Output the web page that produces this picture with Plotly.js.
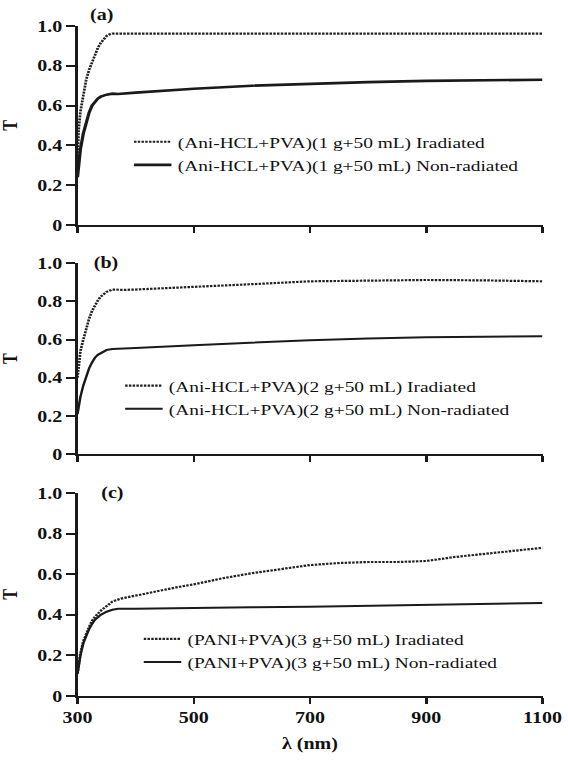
<!DOCTYPE html>
<html>
<head>
<meta charset="utf-8">
<script src="https://cdn.plot.ly/plotly-3.0.1.min.js"></script>
<style>
html,body{margin:0;padding:0;background:#fff;overflow:hidden;}
#wrap{width:568px;height:768px;overflow:hidden;}
#chart{width:454px;height:768px;transform:scaleX(1.25);transform-origin:0 0;}
</style>
</head>
<body>
<div id="wrap"><div id="chart"></div></div>
<script>
// Panel (a)
const lamA_irr = [300,302,305,310,315,320,325,330,335,340,345,350,355,360,400,600,800,1000,1100];
const tA_irr   = [0.30,0.48,0.57,0.66,0.73,0.78,0.82,0.86,0.89,0.915,0.935,0.95,0.958,0.962,0.962,0.962,0.962,0.962,0.962];
const lamA_non = [300,302,305,310,315,320,325,330,335,340,350,360,370,400,500,600,700,800,900,1000,1100];
const tA_non   = [0.24,0.32,0.38,0.46,0.52,0.565,0.60,0.62,0.635,0.645,0.655,0.66,0.658,0.665,0.685,0.70,0.71,0.718,0.724,0.728,0.73];
// Panel (b)
const lamB_irr = [300,302,305,310,315,320,325,330,335,340,345,350,360,380,400,500,600,700,800,900,1000,1100];
const tB_irr   = [0.40,0.48,0.54,0.60,0.66,0.71,0.75,0.78,0.805,0.825,0.84,0.85,0.862,0.86,0.862,0.875,0.89,0.905,0.91,0.912,0.91,0.905];
const lamB_non = [300,302,305,310,315,320,325,330,335,340,350,360,380,400,500,600,700,800,900,1000,1100];
const tB_non   = [0.21,0.25,0.30,0.36,0.41,0.45,0.48,0.505,0.52,0.53,0.545,0.55,0.552,0.556,0.57,0.585,0.597,0.605,0.612,0.615,0.617];
// Panel (c)
const lamC_irr = [300,302,305,310,315,320,325,330,340,350,360,375,400,430,470,500,550,600,650,700,750,800,850,900,950,1000,1050,1100];
const tC_irr   = [0.11,0.16,0.21,0.27,0.31,0.34,0.37,0.39,0.42,0.445,0.465,0.48,0.495,0.51,0.535,0.55,0.58,0.605,0.625,0.645,0.655,0.66,0.66,0.665,0.685,0.70,0.715,0.73];
const lamC_non = [300,302,305,310,315,320,325,330,340,350,360,370,400,500,600,700,800,900,1000,1100];
const tC_non   = [0.11,0.15,0.20,0.26,0.30,0.33,0.355,0.375,0.40,0.415,0.425,0.43,0.43,0.432,0.437,0.44,0.445,0.45,0.455,0.458];

const names = {
  aI: "(Ani-HCL+PVA)(1 g+50 mL) Iradiated",
  aN: "(Ani-HCL+PVA)(1 g+50 mL) Non-radiated",
  bI: "(Ani-HCL+PVA)(2 g+50 mL) Iradiated",
  bN: "(Ani-HCL+PVA)(2 g+50 mL) Non-radiated",
  cI: "(PANI+PVA)(3 g+50 mL) Iradiated",
  cN: "(PANI+PVA)(3 g+50 mL) Non-radiated"
};
const xTicks = [300,500,700,900,1100];
const yTicks = [0,0.2,0.4,0.6,0.8,1.0];
const yTickText = ["0","0.2","0.4","0.6","0.8","1.0"];

const serif = "Liberation Serif";
const dotted = {color:"#222", width:2.2, dash:"2px,1px"};
const solid = w => ({color:"#1a1a1a", width:w});

const traces = [
  {x:lamA_irr, y:tA_irr, name:names.aI, mode:"lines", line:dotted, xaxis:"x", yaxis:"y", legend:"legend"},
  {x:lamA_non, y:tA_non, name:names.aN, mode:"lines", line:solid(2.6), xaxis:"x", yaxis:"y", legend:"legend"},
  {x:lamB_irr, y:tB_irr, name:names.bI, mode:"lines", line:dotted, xaxis:"x2", yaxis:"y2", legend:"legend2"},
  {x:lamB_non, y:tB_non, name:names.bN, mode:"lines", line:solid(2), xaxis:"x2", yaxis:"y2", legend:"legend2"},
  {x:lamC_irr, y:tC_irr, name:names.cI, mode:"lines", line:dotted, xaxis:"x3", yaxis:"y3", legend:"legend3"},
  {x:lamC_non, y:tC_non, name:names.cN, mode:"lines", line:solid(2), xaxis:"x3", yaxis:"y3", legend:"legend3"}
];

function xax(anchor, showLabels, title) {
  const a = {
    range:[300,1100], anchor:anchor, showline:true, linecolor:"#1a1a1a", linewidth:2,
    ticks:"outside", ticklen:6, tickwidth:2, tickcolor:"#1a1a1a",
    tickvals:xTicks, showticklabels:showLabels, showgrid:false, zeroline:false,
    tickfont:{family:serif, size:16, color:"#111", weight:"bold"}
  };
  if (title) a.title = {text:title, font:{family:serif, size:16, color:"#111", weight:"bold"}, standoff:13};
  return a;
}
function yax(anchor, domain) {
  return {
    range:[0,1.0], domain:domain, anchor:anchor, showline:true, linecolor:"#1a1a1a", linewidth:2,
    ticks:"outside", ticklen:7, tickwidth:2, tickcolor:"#1a1a1a",
    tickvals:yTicks, ticktext:yTickText, showgrid:false, zeroline:false,
    tickfont:{family:serif, size:16, color:"#111", weight:"bold"},
    title:{text:"T", font:{family:serif, size:16, color:"#111", weight:"bold"}, standoff:13}
  };
}
function leg(x, y) {
  return {x:x, y:y, xref:"paper", yref:"paper", xanchor:"left", yanchor:"top",
    bgcolor:"rgba(0,0,0,0)", borderwidth:0, itemwidth:30, tracegroupgap:0,
    font:{family:serif, size:15.5, color:"#111"}};
}

const layout = {
  width:454, height:768,
  margin:{l:62.4, r:20.4, t:26, b:72},
  paper_bgcolor:"#fff", plot_bgcolor:"#fff",
  showlegend:true,
  xaxis: xax("y", false),
  xaxis2: xax("y2", false),
  xaxis3: xax("y3", true, "λ (nm)"),
  yaxis: yax("x", [0.703, 1.0]),
  yaxis2: yax("x2", [0.361, 0.646]),
  yaxis3: yax("x3", [0.0, 0.303]),
  legend: leg(0.108, 0.852),
  legend2: leg(0.089, 0.488),
  legend3: leg(0.129, 0.110),
  annotations:[
    {text:"(a)", x:0.022, y:1.0, xref:"paper", yref:"paper", xanchor:"left", yanchor:"bottom", showarrow:false, font:{family:serif, size:16, color:"#111", weight:"bold"}},
    {text:"(b)", x:0.030, y:0.646, xref:"paper", yref:"paper", xanchor:"left", yanchor:"middle", showarrow:false, font:{family:serif, size:16, color:"#111", weight:"bold"}},
    {text:"(c)", x:0.047, y:0.303, xref:"paper", yref:"paper", xanchor:"left", yanchor:"middle", showarrow:false, font:{family:serif, size:16, color:"#111", weight:"bold"}}
  ]
};

Plotly.newPlot("chart", traces, layout, {displayModeBar:false, staticPlot:true});
</script>
</body>
</html>
